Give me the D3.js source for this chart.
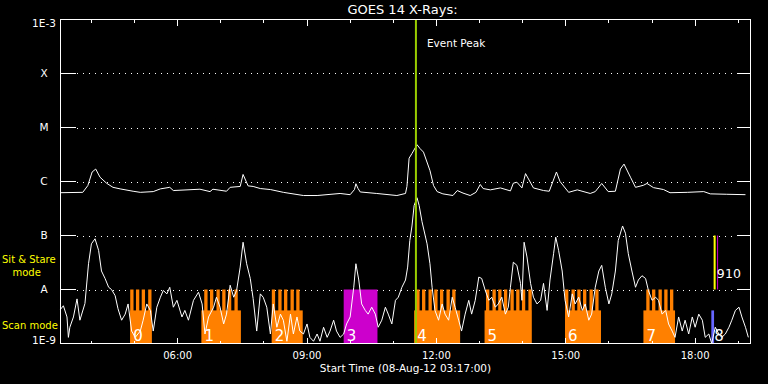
<!DOCTYPE html>
<html>
<head>
    <meta charset="utf-8" />
    <title>GOES 14 X-Rays</title>
    <style>
        body { margin: 0; background: #000; }
        svg { display: block; }
        text { font-family: "DejaVu Sans", sans-serif; fill: #fff; }
    </style>
</head>
<body>
<script src="https://cdnjs.cloudflare.com/ajax/libs/d3/7.8.5/d3.min.js"></script>
<script>

    // times are minutes after the start time 03:17 UT
    var titleText = "GOES 14 X-Rays:";
    var xTitle = "Start Time (08-Aug-12 03:17:00)";
    var startMinuteOfDay = 3 * 60 + 17;
    var spanMinutes = 960;

    // 1-8 A channel  [minute, W/m^2]
    var longChannel = [
        [0,6.2e-7],[31,6.3e-7],[38,8.4e-7],[44,1.5e-6],[49,1.7e-6],[55,1.2e-6],[64,9.3e-7],[73,7.8e-7],
        [83,7.3e-7],[101,6.6e-7],[111,6.3e-7],[129,6.5e-7],[139,7.3e-7],[152,7.8e-7],[157,6.8e-7],[176,7.0e-7],
        [194,7.2e-7],[208,6.5e-7],[212,7.2e-7],[231,6.6e-7],[236,7.8e-7],[250,8.1e-7],[254,1.35e-6],[261,8.3e-7],
        [268,8.1e-7],[278,7.4e-7],[292,7.1e-7],[310,6.3e-7],[338,5.5e-7],[357,5.5e-7],[389,6.0e-7],[403,5.7e-7],
        [409,7.1e-7],[411,9.1e-7],[414,7.4e-7],[417,6.4e-7],[440,6.0e-7],[468,5.5e-7],[480,6.0e-7],[482,8.1e-7],
        [485,2.7e-6],[489,3.3e-6],[496,4.8e-6],[500,4.1e-6],[505,3.5e-6],[514,1.6e-6],[519,8.4e-7],[524,6.5e-7],
        [532,5.9e-7],[546,5.5e-7],[552,6.8e-7],[560,6.1e-7],[570,5.5e-7],[578,6.3e-7],[584,8.8e-7],[588,7.4e-7],
        [598,7.0e-7],[612,7.6e-7],[626,6.7e-7],[630,9.3e-7],[635,9.7e-7],[642,7.6e-7],[647,1.4e-6],[658,7.6e-7],
        [672,6.8e-7],[680,6.6e-7],[690,1.5e-6],[695,1.0e-6],[707,6.3e-7],[719,7.0e-7],[737,6.0e-7],[744,6.5e-7],
        [753,9.2e-7],[762,6.5e-7],[772,6.6e-7],[779,1.7e-6],[784,2.1e-6],[793,1.2e-6],[800,7.8e-7],[811,8.5e-7],
        [816,9.2e-7],[825,7.7e-7],[839,7.1e-7],[848,6.2e-7],[872,6.3e-7],[895,6.5e-7],[904,5.9e-7],[927,5.8e-7],
        [953,5.7e-7]
    ];

    // 0.5-4 A channel  [minute, W/m^2]
    var shortChannel = [
        [0,4.3e-9],[4,5.0e-9],[9,3.1e-9],[11,1.3e-9],[13,2.0e-9],[18,3.1e-9],[23,6.7e-9],[27,2.7e-9],[34,5.5e-9],[39,3.0e-8],
        [43,7.0e-8],[48,8.7e-8],[53,5.3e-8],[57,2.2e-8],[62,1.6e-8],[67,1.1e-8],[71,1.0e-8],[76,7.7e-9],[80,4.4e-9],[85,2.7e-9],
        [90,3.5e-9],[94,5.4e-9],[99,1.7e-9],[104,1.3e-9],[111,1.7e-9],[115,2.7e-9],[120,5.4e-9],[125,4.1e-9],[129,1.7e-9],[134,4.7e-9],
        [139,7.2e-9],[143,9.6e-9],[148,8.3e-9],[152,1.1e-8],[157,4.7e-9],[162,6.3e-9],[169,3.1e-9],[173,4.1e-9],[178,2.7e-9],[185,6.3e-9],
        [192,8.9e-9],[197,5.4e-9],[201,1.5e-9],[206,3.1e-9],[213,4.7e-9],[217,7.2e-9],[222,4.7e-9],[227,2.3e-9],[231,3.5e-9],[236,1.2e-8],
        [241,7.2e-9],[245,9.6e-9],[250,2.6e-8],[254,7.5e-8],[259,3.0e-8],[264,1.6e-8],[268,6.8e-9],[273,1.7e-9],[278,8.3e-9],[282,7.2e-9],
        [287,4.7e-9],[292,1.5e-9],[296,5.4e-9],[301,2.0e-9],[306,3.5e-9],[310,2.7e-9],[315,1.1e-9],[320,3.5e-9],[324,1.5e-9],[329,3.1e-9],
        [333,1.7e-9],[338,1.5e-9],[343,2.3e-9],[347,1.3e-9],[352,1.1e-9],[357,1.5e-9],[361,1.1e-9],[366,2.0e-9],[371,1.3e-9],[375,1.7e-9],
        [380,2.7e-9],[384,1.7e-9],[389,1.3e-9],[394,1.5e-9],[398,2.3e-9],[403,3.1e-9],[408,1.1e-8],[411,3.0e-8],[415,1.5e-8],[419,5.4e-9],
        [424,4.1e-9],[428,3.5e-9],[433,4.7e-9],[438,3.5e-9],[442,2.0e-9],[447,2.7e-9],[452,4.7e-9],[456,3.5e-9],[461,2.3e-9],[466,6.3e-9],
        [470,7.2e-9],[475,1.1e-8],[480,1.5e-8],[483,2.6e-8],[486,8.1e-8],[489,1.5e-7],[492,3.6e-7],[496,5.0e-7],[499,3.6e-7],[503,1.8e-7],
        [510,7.0e-8],[514,3.0e-8],[517,1.1e-8],[521,4.1e-9],[526,2.7e-9],[531,5.4e-9],[535,3.5e-9],[540,2.7e-9],[545,7.2e-9],[549,4.7e-9],
        [554,2.7e-9],[558,1.7e-9],[563,3.5e-9],[568,6.3e-9],[572,3.5e-9],[577,6.3e-9],[582,1.7e-8],[586,1.6e-8],[591,9.6e-9],[596,6.3e-9],
        [600,7.2e-9],[605,4.7e-9],[609,5.4e-9],[614,7.2e-9],[619,3.5e-9],[623,4.7e-9],[626,1.1e-8],[630,3.2e-8],[635,2.8e-8],[640,1.3e-8],
        [642,6.3e-9],[645,7.5e-8],[649,4.0e-8],[654,1.3e-8],[658,7.2e-9],[663,5.4e-9],[668,6.3e-9],[672,1.3e-8],[677,4.1e-9],[681,1.5e-8],
        [686,4.6e-8],[689,9.3e-8],[693,5.3e-8],[698,2.2e-8],[702,6.3e-9],[707,3.1e-9],[712,8.3e-9],[716,5.4e-9],[721,7.2e-9],[726,4.1e-9],
        [730,5.4e-9],[735,2.7e-9],[739,3.5e-9],[744,1.1e-8],[749,2.2e-8],[753,2.8e-8],[758,1.1e-8],[763,5.4e-9],[767,8.3e-9],[772,2.2e-8],
        [776,8.1e-8],[782,1.5e-7],[786,1.1e-7],[790,4.6e-8],[795,2.2e-8],[800,1.1e-8],[804,1.5e-8],[809,1.8e-8],[814,1.6e-8],[818,9.6e-9],
        [823,6.3e-9],[828,7.2e-9],[832,6.3e-9],[837,3.5e-9],[842,4.1e-9],[846,2.3e-9],[851,1.7e-9],[855,1.3e-9],[860,3.1e-9],[865,1.7e-9],
        [869,2.7e-9],[874,1.5e-9],[879,3.1e-9],[883,2.0e-9],[888,3.5e-9],[893,2.7e-9],[897,1.3e-9],[902,1.5e-9],[906,1.0e-9],[911,2.0e-9],
        [916,1.5e-9],[920,1.3e-9],[925,1.5e-9],[930,2.0e-9],[934,2.7e-9],[939,4.1e-9],[944,4.7e-9],[948,3.1e-9],[953,2.0e-9],[957,1.3e-9]
    ];

    var decadeFlux   = [1e-9, 1e-8, 1e-7, 1e-6, 1e-5, 1e-4, 1e-3];
    var decadeLabels = ["1E-9", "A", "B", "C", "M", "X", "1E-3"];

    var tickHours  = [4, 5, 6, 7, 8, 9, 10, 11, 12, 13, 14, 15, 16, 17, 18, 19];
    var labelHours = [6, 9, 12, 15, 18];
    var hourLabels = ["06:00", "09:00", "12:00", "15:00", "18:00"];

    var eventPeak = 494.5;
    var eventLabel = "Event Peak";

    // observations: kind, band, start, end (minutes), label, raster starts
    var obsLabels = ["0", "1", "2", "3", "4", "5", "6", "7", "8", "9", "10"];
    var obsKind   = ["raster", "raster", "raster", "stare", "raster", "raster", "raster", "raster", "dense", "sit", "stare"];
    var obsBand   = ["scan", "scan", "scan", "scan", "scan", "scan", "scan", "scan", "scan", "sit", "sit"];
    var obsStart  = [97, 196, 294, 394, 492, 590, 702, 811, 905.5, 908.7, 913.5];
    var obsEnd    = [127, 251, 337, 441, 556, 655, 752, 855, 909.3, 911.5, 914.5];
    var obsRasters = [
        [97, 105, 113, 122],
        [200, 208, 217, 225, 233, 242],
        [294, 303, 311, 320, 328],
        [],
        [495, 503, 512, 520, 528, 537, 545],
        [592, 601, 609, 617, 626, 634, 642, 651],
        [702, 711, 719, 727, 736, 744],
        [815, 823, 832, 840, 848],
        [], [], []
    ];
    var rasterMinutes = 4.6;
    var scanBase = 4.1e-9;   // top of the continuous scan strip

    var modeLabels = ["Sit & Stare", "mode", "Scan mode"];

    var kindColor = {"raster": "#ff8000", "stare": "#cc00cc", "dense": "#6666ff", "sit": "#ffff00"};
    var bandRange = {"scan": [1e-9, 1e-8], "sit": [1e-8, 1e-7]};

    var width = 768, height = 384;
    var margin = {"left": 60.5, "right": 17.5, "top": 19.5, "bottom": 40.5};

    var svg = d3.select("body").append("svg")
                .attr("width", width)
                .attr("height", height)
                .style("background", "#000");

    var x = d3.scaleLinear()
              .domain([0, spanMinutes])
              .range([margin.left, width - margin.right]);

    var y = d3.scaleLog()
              .domain([decadeFlux[0], decadeFlux[decadeFlux.length - 1]])
              .range([height - margin.bottom, margin.top]);

    var x0 = x.range()[0], x1 = x.range()[1];
    var yb = y.range()[0], yt = y.range()[1];

    function hourToMinute(h) { return h * 60 - startMinuteOfDay; }

    // dotted grid on the class levels
    svg.append("g")
       .selectAll("line")
       .data(decadeFlux.slice(1, -1))
       .enter().append("line")
       .attr("x1", x0 + 16.5).attr("x2", x1 - 14)
       .attr("y1", d => Math.round(y(d)) + 0.5).attr("y2", d => Math.round(y(d)) + 0.5)
       .attr("stroke", "#fff")
       .attr("stroke-dasharray", "1,5");

    // observation bars
    var obsGroup = svg.append("g");
    obsLabels.forEach(function(lab, i) {
        var band = bandRange[obsBand[i]];
        var col = kindColor[obsKind[i]];
        var top = band[1];
        if (obsKind[i] === "raster" || obsKind[i] === "dense") top = scanBase;
        obsGroup.append("rect")
                .attr("x", x(obsStart[i]))
                .attr("width", Math.max(1, x(obsEnd[i]) - x(obsStart[i])))
                .attr("y", y(top))
                .attr("height", y(band[0]) - y(top))
                .attr("fill", col);
        obsRasters[i].forEach(function(r) {
            obsGroup.append("rect")
                    .attr("x", x(r))
                    .attr("width", x(r + rasterMinutes) - x(r))
                    .attr("y", y(band[1]))
                    .attr("height", y(band[0]) - y(band[1]))
                    .attr("fill", col);
        });
    });

    // labels sit just right of the start, pushed along if they would collide
    var lastRight = {"scan": 0, "sit": 0};
    obsLabels.forEach(function(lab, i) {
        var b = obsBand[i];
        var t = obsGroup.append("text")
                        .attr("y", b === "scan" ? y(bandRange.scan[0]) - 3 : y(bandRange.sit[0]) - 12)
                        .style("font-size", b === "scan" ? "15px" : "12.5px")
                        .text(lab);
        var lx = Math.max(x(obsStart[i]) + 3, lastRight[b] + 0.5);
        t.attr("x", lx);
        lastRight[b] = lx + t.node().getComputedTextLength();
    });

    // flux curves
    var line = d3.line()
                 .x(d => x(d[0]))
                 .y(d => y(d[1]));

    svg.append("path")
       .datum(longChannel)
       .attr("fill", "none")
       .attr("stroke", "#fff")
       .attr("stroke-width", 1)
       .attr("d", line);

    svg.append("path")
       .datum(shortChannel)
       .attr("fill", "none")
       .attr("stroke", "#fff")
       .attr("stroke-width", 1)
       .attr("d", line);

    // event peak
    svg.append("line")
       .attr("x1", x(eventPeak)).attr("x2", x(eventPeak))
       .attr("y1", yt).attr("y2", yb)
       .attr("stroke", "#99cc00")
       .attr("stroke-width", 2);

    svg.append("text")
       .attr("x", x(eventPeak) + 11)
       .attr("y", yt + 27.5)
       .style("font-size", "10.5px")
       .text(eventLabel);

    // frame
    var frame = svg.append("g")
                   .attr("stroke", "#fff")
                   .attr("fill", "none")
                   .attr("shape-rendering", "crispEdges");

    frame.append("rect")
         .attr("x", x0).attr("y", yt)
         .attr("width", x1 - x0).attr("height", yb - yt);

    frame.selectAll(".yl")
         .data(decadeFlux)
         .enter().append("line")
         .attr("x1", x0).attr("x2", x0 + 15)
         .attr("y1", d => y(d)).attr("y2", d => y(d));

    frame.selectAll(".yr")
         .data(decadeFlux)
         .enter().append("line")
         .attr("x1", x1 - 14).attr("x2", x1)
         .attr("y1", d => y(d)).attr("y2", d => y(d));

    tickHours.forEach(function(h) {
        var len = labelHours.indexOf(h) >= 0 ? 6 : 3;
        var xx = x(hourToMinute(h));
        frame.append("line").attr("x1", xx).attr("x2", xx).attr("y1", yt).attr("y2", yt + len);
        frame.append("line").attr("x1", xx).attr("x2", xx).attr("y1", yb).attr("y2", yb - len);
    });

    // y labels
    svg.append("g")
       .selectAll("text")
       .data(decadeLabels)
       .enter().append("text")
       .attr("x", x0 - 16.5)
       .attr("y", (d, i) => y(decadeFlux[i]) + (i === decadeFlux.length - 1 ? 4 : (i === 0 ? -3 : 0)))
       .attr("dy", "0.36em")
       .attr("text-anchor", "middle")
       .style("font-size", "10.5px")
       .text(d => d);

    // x labels
    svg.append("g")
       .selectAll("text")
       .data(hourLabels)
       .enter().append("text")
       .attr("x", (d, i) => x(hourToMinute(labelHours[i])))
       .attr("y", yb + 15)
       .attr("text-anchor", "middle")
       .style("font-size", "10px")
       .text(d => d);

    svg.append("text")
       .attr("x", (x0 + x1) / 2)
       .attr("y", yb + 28)
       .attr("text-anchor", "middle")
       .style("font-size", "10.5px")
       .text(xTitle);

    svg.append("text")
       .attr("x", (x0 + x1) / 2 - 3)
       .attr("y", 14)
       .attr("text-anchor", "middle")
       .style("font-size", "13px")
       .text(titleText);

    // mode labels
    var modeText = svg.append("g")
                      .style("font-size", "10px");
    modeText.append("text").attr("x", 2).attr("y", 262.5).style("fill", "#ffff00").text(modeLabels[0]);
    modeText.append("text").attr("x", 12.5).attr("y", 275.5).style("fill", "#ffff00").text(modeLabels[1]);
    modeText.append("text").attr("x", 2).attr("y", 328.5).style("fill", "#ffff00").text(modeLabels[2]);

</script>
</body>
</html>
